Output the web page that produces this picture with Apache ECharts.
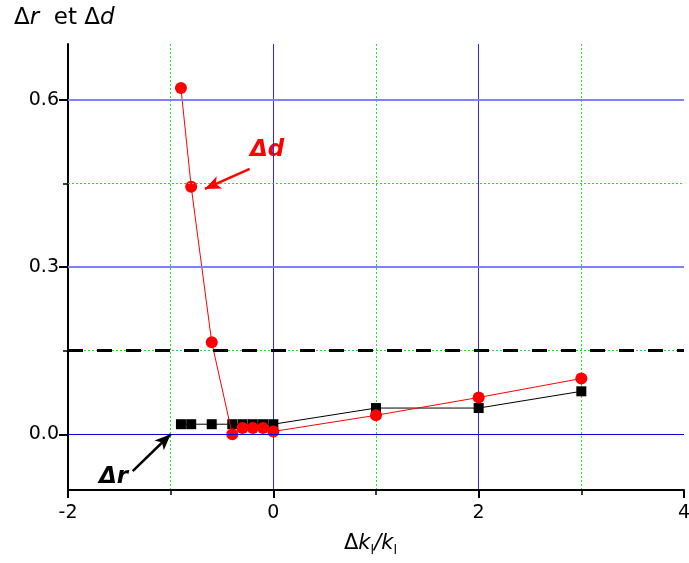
<!DOCTYPE html>
<html><head><meta charset="utf-8">
<script src="https://cdn.jsdelivr.net/npm/echarts@6/dist/echarts.min.js"></script>
<style>html,body{margin:0;padding:0;background:#fff}#c{width:689px;height:563px}</style>
</head><body><div id="c"></div>
<script>
// Data
const drX = [-0.9, -0.8, -0.6, -0.4, -0.3, -0.2, -0.1, 0, 1, 2, 3];
const drY = [0.018, 0.018, 0.018, 0.018, 0.018, 0.018, 0.018, 0.018, 0.047, 0.047, 0.077];
const ddX = [-0.9, -0.8, -0.6, -0.4, -0.3, -0.2, -0.1, 0, 1, 2, 3];
const ddY = [0.621, 0.444, 0.165, 0.0, 0.011, 0.011, 0.011, 0.005, 0.034, 0.066, 0.1];
const yMajor = [0, 0.3, 0.6];
const yMinor = [0.15, 0.45];
const threshold = 0.15;
const arrowD = [[-0.23, 0.476], [-0.667, 0.44]];
const arrowR = [[-1.37, -0.066], [-1.0, 0.0]];

const FONT = 'DejaVu Sans';
const chart = echarts.init(document.getElementById('c'), null, {renderer: 'canvas'});
const pair = (xs, ys) => xs.map((x, i) => [x, ys[i]]);

chart.setOption({
  animation: false,
  backgroundColor: '#fff',
  textStyle: {fontFamily: FONT},
  grid: {left: 68, right: 5, top: 44, bottom: 73, containLabel: false, outerBoundsMode: 'none'},
  xAxis: {
    type: 'value', min: -2, max: 4, interval: 2,
    axisLine: {show: true, onZero: false, lineStyle: {color: '#000', width: 2}},
    axisTick: {show: true, length: 8, lineStyle: {color: '#000', width: 2}},
    minorTick: {show: true, splitNumber: 2, length: 5, lineStyle: {color: '#000', width: 1.5}},
    axisLabel: {fontSize: 19, color: '#000', margin: 14, fontFamily: FONT, hideOverlap: false},
    splitLine: {show: true, showMinLine: false, showMaxLine: false, lineStyle: {color: '#2a2aff', width: 1}},
    minorSplitLine: {show: true, lineStyle: {color: '#22e022', width: 1, type: [2, 2]}}
  },
  yAxis: [{
    type: 'value', min: -0.1, max: 0.7,
    axisLine: {show: true, onZero: false, lineStyle: {color: '#000', width: 2}},
    axisTick: {show: true, length: 9, customValues: yMajor, lineStyle: {color: '#000', width: 2}},
    axisLabel: {fontSize: 19, color: '#000', margin: 9, customValues: yMajor, fontFamily: FONT,
      formatter: v => Number(v).toFixed(1)},
    splitLine: {show: false}
  }, {
    type: 'value', min: -0.1, max: 0.7, position: 'left', offset: 0,
    axisLine: {show: false, onZero: false},
    axisTick: {show: true, length: 5, customValues: yMinor, lineStyle: {color: '#000', width: 1.5}},
    axisLabel: {show: false},
    splitLine: {show: false}
  }],
  series: [
    {
      type: 'line', data: [], z: 1, silent: true,
      markLine: {
        silent: true, symbol: 'none', label: {show: false}, animation: false,
        data: [
          ...yMinor.map(v => ({yAxis: v, lineStyle: {color: '#22e022', width: 1, type: [2, 2]}})),
          {yAxis: yMajor[0], lineStyle: {color: '#0000e0', width: 1, type: 'solid'}},
          {yAxis: yMajor[1], lineStyle: {color: '#8080ff', width: 2, type: 'solid'}},
          {yAxis: yMajor[2], lineStyle: {color: '#8080ff', width: 2, type: 'solid'}}
        ]
      }
    },
    {
      type: 'line', data: [], z: 2, silent: true,
      markLine: {
        silent: true, symbol: 'none', label: {show: false}, animation: false,
        data: [{yAxis: threshold, lineStyle: {color: '#000', width: 3, type: [15, 14]}}]
      }
    },
    {
      name: 'Δr', type: 'line', z: 3, data: pair(drX, drY),
      symbol: 'rect', symbolSize: 10, showSymbol: true,
      lineStyle: {color: '#000', width: 1}, itemStyle: {color: '#000'},
      markLine: {
        silent: true, symbol: ['none', 'arrow'], symbolSize: [10, 16], label: {show: false}, animation: false,
        lineStyle: {color: '#000', width: 2.5, type: 'solid'},
        data: [[{coord: arrowR[0]}, {coord: arrowR[1]}]]
      }
    },
    {
      name: 'Δd', type: 'line', z: 4, data: pair(ddX, ddY),
      symbol: 'circle', symbolSize: 12, showSymbol: true,
      lineStyle: {color: '#ff0000', width: 1}, itemStyle: {color: '#ff0000'},
      markLine: {
        silent: true, symbol: ['none', 'arrow'], symbolSize: [10, 16], label: {show: false}, animation: false,
        lineStyle: {color: '#ff0000', width: 2.5, type: 'solid'},
        data: [[{coord: arrowD[0]}, {coord: arrowD[1]}]]
      }
    }
  ],
  graphic: [
    {type: 'text', left: 14, top: 7, style: {
      text: '{n|Δ}{i|r}{n|  et Δ}{i|d}', fill: '#000',
      rich: {n: {fontSize: 23, fontFamily: FONT}, i: {fontSize: 23, fontFamily: FONT, fontStyle: 'italic'}}
    }},
    {type: 'text', left: 344, top: 533, style: {
      text: '{n|Δ}{i|k}{s|l}{i|/k}{s|l}', fill: '#000',
      rich: {n: {fontSize: 21, fontFamily: FONT}, i: {fontSize: 21, fontFamily: FONT, fontStyle: 'italic'},
             s: {fontSize: 13, fontFamily: FONT, padding: [15, 0, 0, 0]}}
    }},
    {type: 'text', left: 250, top: 139, style: {
      text: 'Δd', fill: '#ff0000', fontSize: 23, fontWeight: 'bold', fontStyle: 'italic', fontFamily: FONT
    }},
    {type: 'text', left: 99, top: 466, style: {
      text: 'Δr', fill: '#000', fontSize: 23, fontWeight: 'bold', fontStyle: 'italic', fontFamily: FONT
    }}
  ]
});
</script>
</body></html>
